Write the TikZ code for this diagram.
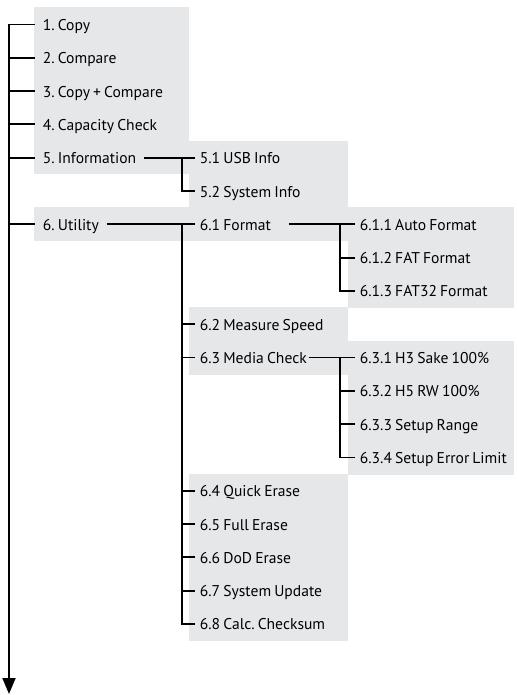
\documentclass[tikz,border=0pt]{standalone}
\usepackage{fontspec}
\setmainfont[WordSpace=0.75]{PT Sans}
\usepackage{tikz}
\usetikzlibrary{arrows.meta}
\definecolor{menugray}{RGB}{230,231,232}
\frenchspacing
\tikzset{
  item/.style={anchor=west,inner ysep=0pt,inner xsep=4pt,text height=12pt,text depth=0pt,
    font=\fontsize{15.6}{19}\selectfont},
  topitem/.style={item,inner xsep=7pt},
}
\begin{document}
\begin{tikzpicture}[x=1pt,y=-1pt,line width=1.8pt]
			\useasboundingbox (0,0) rectangle (516,695);
			% gray panels
			\fill[menugray] (34,7) rectangle (189,174);
			\fill[menugray] (189,141) rectangle (348,208);
			\fill[menugray] (34,207) rectangle (348,241);
			\fill[menugray] (348,207) rectangle (514,308);
			\fill[menugray] (189,307) rectangle (348,375);
			\fill[menugray] (348,341) rectangle (514,475);
			\fill[menugray] (189,474) rectangle (348,641);
			% first level
			\node[topitem] (copy) at (35,24.5) {1. Copy};
			\node[topitem] (compare) at (35,57.8) {2. Compare};
			\node[topitem] (copycmp) at (35,91.1) {3. Copy + Compare};
			\node[topitem] (capacity) at (35,124.4) {4. Capacity Check};
			\node[topitem] (info) at (35,157.7) {5. Information};
			\node[topitem] (util) at (35,224.3) {6. Utility};
			% second level
			\node[item] (usb) at (195,157.7) {5.1 USB Info};
			\node[item] (sysinfo) at (195,191) {5.2 System Info};
			\node[item] (format) at (195,224.3) {6.1 Format};
			\node[item] (speed) at (195,324.2) {6.2 Measure Speed};
			\node[item] (media) at (195,357.5) {6.3 Media Check};
			\node[item] (quick) at (195,490.7) {6.4 Quick Erase};
			\node[item] (full) at (195,524) {6.5 Full Erase};
			\node[item] (dod) at (195,557.3) {6.6 DoD Erase};
			\node[item] (update) at (195,590.6) {6.7 System Update};
			\node[item] (checksum) at (195,623.9) {6.8 Calc. Checksum};
			% third level
			\node[item] (auto) at (355,224.3) {6.1.1 Auto Format};
			\node[item] (fat) at (355,257.6) {6.1.2 FAT Format};
			\node[item] (fat32) at (355,290.9) {6.1.3 FAT32 Format};
			\node[item] (h3) at (355,357.5) {6.3.1 H3 Sake 100\%};
			\node[item] (h5) at (355,390.8) {6.3.2 H5 RW 100\%};
			\node[item] (range) at (355,424.1) {6.3.3 Setup Range};
			\node[item] (errlimit) at (355,457.4) {6.3.4 Setup Error Limit};
			% main line
			\coordinate (top) at (9,24.5);
			\coordinate (bottom) at (9,694);
			\draw[-{Triangle[width=13pt,length=16pt]}] (top) -- (bottom);
			\foreach \n in {copy,compare,copycmp,capacity,info,util}
				\draw (top |- \n.west) -- (\n.west);
			% information branch
			\coordinate (binfo) at (182,157.7);
			\draw (info.east) -- (usb.west);
			\draw (binfo) |- (sysinfo.west);
			% utility branch
			\coordinate (butil) at (182,224.3);
			\draw (util.east) -- (format.west);
			\draw (butil) |- (checksum.west);
			\foreach \n in {speed,media,quick,full,dod,update}
				\draw (butil |- \n.west) -- (\n.west);
			% format branch
			\coordinate (bformat) at (340,224.3);
			\draw ([xshift=13pt]format.east) -- (auto.west);
			\draw (bformat) |- (fat32.west);
			\draw (bformat |- fat.west) -- (fat.west);
			% media check branch
			\coordinate (bmedia) at (340,357.5);
			\draw ([xshift=-3pt]media.east) -- (h3.west);
			\draw (bmedia) |- (errlimit.west);
			\foreach \n in {h5,range}
				\draw (bmedia |- \n.west) -- (\n.west);
		\end{tikzpicture}
\end{document}
